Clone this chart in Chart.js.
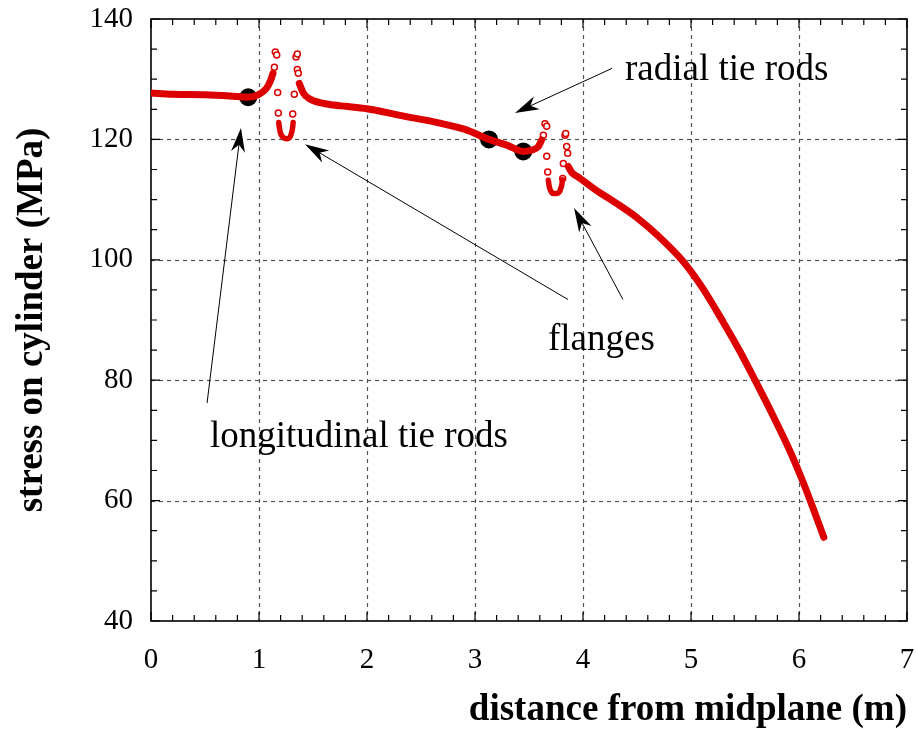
<!DOCTYPE html>
<html><head><meta charset="utf-8">
<script src="https://cdn.jsdelivr.net/npm/chart.js@4.4.0/dist/chart.umd.min.js"></script>
<style>html,body{margin:0;padding:0;background:#fff}#wrap{width:916px;height:729px;position:relative}</style>
</head><body><div id="wrap"><canvas id="c"></canvas></div>
<script>
// ---- tick labels ----
const xTickValues = [0,1,2,3,4,5,6,7];
const yTickValues = [40,60,80,100,120,140];

// ---- stress curve (dense part, drawn as thick line) ----
const segAX = [0,0.2,0.5,0.73,0.9,0.99,1.07,1.11,1.13];
const segAY = [127.7,127.5,127.4,127.2,127.0,127.4,128.5,129.9,131.0];
const segBX = [1.373,1.41,1.472,1.565,1.69,1.8,2.0,2.305,2.676,2.9,3.13,3.3,3.447,3.52,3.586,3.617];
const segBY = [129.3,127.7,126.7,126.1,125.7,125.5,125.1,124.0,122.7,121.7,120.0,119.0,118.0,118.2,118.8,119.9];
const segCX = [3.864,3.9,3.95,3.99,4.11,4.3,4.5,4.7,4.914,5.1,5.3,5.45,5.593,5.762,5.917,6.01,6.10,6.23];
const segCY = [115.5,114.4,113.8,113.3,111.7,109.5,107.0,103.9,100.0,95.5,89.6,84.9,80.0,74.0,68.2,64.3,60.2,53.9];

// ---- flange troughs (dense U shapes) ----
const flange1UX = [1.183,1.19,1.20,1.215,1.235,1.255,1.275,1.29,1.30,1.31,1.316];
const flange1UY = [122.8,121.8,121.0,120.5,120.2,120.1,120.2,120.5,121.0,121.8,122.8];
const flange2UX = [3.679,3.685,3.695,3.71,3.73,3.75,3.77,3.785,3.795,3.805,3.81];
const flange2UY = [113.2,112.4,111.7,111.2,111.0,111.0,111.1,111.4,111.9,112.6,113.3];

// ---- flange sparse points (hollow circles) ----
const flange1X = [1.142,1.151,1.164,1.173,1.179,1.312,1.327,1.343,1.355,1.355,1.364];
const flange1Y = [132.0,134.5,134.0,127.8,124.4,124.2,127.5,133.7,134.2,131.6,131.0];
const flange2X = [3.633,3.648,3.664,3.664,3.673,3.812,3.818,3.833,3.84,3.849,3.858];
const flange2Y = [120.7,122.6,122.2,117.2,114.6,113.5,116.0,120.7,121.0,118.8,117.7];

// ---- tie rod positions (black dots) ----
const tieRodX = [0.9,3.13,3.447];
const tieRodY = [127.0,120.0,118.0];

// ---- annotations ----
const labelTexts = ['radial tie rods','flanges','longitudinal tie rods'];
const labelX = [4.389,3.676,0.546];
const labelY = [129.9,85.0,68.9];
const arrowTailX = [0.519,3.861,4.37,4.269];
const arrowTailY = [76.2,93.4,93.4,131.8];
const arrowTipX = [0.833,1.426,3.917,3.37];
const arrowTipY = [121.9,119.2,108.6,124.4];

const RED = '#dd0000';
const pts = (xs, ys) => xs.map((x,i)=>({x, y: ys[i]}));
const lineDS = (xs, ys, w) => ({data: pts(xs,ys), showLine:true, borderColor:RED, borderWidth:w,
  pointRadius:0, cubicInterpolationMode:'monotone', borderCapStyle:'round', borderJoinStyle:'round', fill:false});
const circDS = (xs, ys) => ({data: pts(xs,ys), showLine:false, pointRadius:3, pointBorderWidth:1.5,
  pointBorderColor:RED, pointBackgroundColor:'#fff', pointStyle:'circle'});

const axesPlugin = {
  id:'axesFrame',
  beforeDatasetsDraw(chart){
    const {ctx, chartArea:a, scales:{x, y}} = chart;
    ctx.save();
    ctx.strokeStyle = '#555'; ctx.lineWidth = 1.2; ctx.setLineDash([4,4]);
    xTickValues.slice(1,-1).forEach(v=>{const p=Math.round(x.getPixelForValue(v))+0.5;
      ctx.beginPath(); ctx.moveTo(p,a.top); ctx.lineTo(p,a.bottom); ctx.stroke();});
    yTickValues.slice(1,-1).forEach(v=>{const p=Math.round(y.getPixelForValue(v))+0.5;
      ctx.beginPath(); ctx.moveTo(a.left,p); ctx.lineTo(a.right,p); ctx.stroke();});
    ctx.setLineDash([]);
    ctx.strokeStyle = '#000'; ctx.lineWidth = 1.6;
    ctx.strokeRect(a.left, a.top, a.right-a.left, a.bottom-a.top);
    ctx.lineWidth = 1.2;
    const xmin = xTickValues[0], xmax = xTickValues[xTickValues.length-1];
    for (let i = 0; i <= (xmax-xmin)*5; i++){
      const v = xmin + i*0.2; const major = i%5===0; const L = major?9:6;
      const p = x.getPixelForValue(v);
      ctx.beginPath(); ctx.moveTo(p,a.bottom); ctx.lineTo(p,a.bottom-L);
      ctx.moveTo(p,a.top); ctx.lineTo(p,a.top+L); ctx.stroke();
    }
    const ymin = yTickValues[0], ymax = yTickValues[yTickValues.length-1];
    for (let i = 0; i <= (ymax-ymin)/5; i++){
      const v = ymin + i*5; const major = i%4===0; const L = major?9:6;
      const p = y.getPixelForValue(v);
      ctx.beginPath(); ctx.moveTo(a.left,p); ctx.lineTo(a.left+L,p);
      ctx.moveTo(a.right,p); ctx.lineTo(a.right-L,p); ctx.stroke();
    }
    ctx.restore();
  },
  afterDatasetsDraw(chart){
    const {ctx, scales:{x, y}} = chart;
    ctx.save();
    arrowTailX.forEach((tx,i)=>{
      const x0=x.getPixelForValue(tx), y0=y.getPixelForValue(arrowTailY[i]);
      const x1=x.getPixelForValue(arrowTipX[i]), y1=y.getPixelForValue(arrowTipY[i]);
      const ang=Math.atan2(y1-y0,x1-x0), c=Math.cos(ang), s=Math.sin(ang);
      const L=24, W=7, N=17;
      ctx.strokeStyle='#000'; ctx.lineWidth=1;
      ctx.beginPath(); ctx.moveTo(x0,y0); ctx.lineTo(x1-c*N,y1-s*N); ctx.stroke();
      ctx.fillStyle='#000'; ctx.beginPath();
      ctx.moveTo(x1,y1);
      ctx.lineTo(x1-c*L - s*W, y1-s*L + c*W);
      ctx.lineTo(x1-c*N, y1-s*N);
      ctx.lineTo(x1-c*L + s*W, y1-s*L - c*W);
      ctx.closePath(); ctx.fill();
    });
    ctx.fillStyle='#000'; ctx.font='37px "Liberation Serif", "Times New Roman", serif';
    ctx.textAlign='left'; ctx.textBaseline='alphabetic';
    labelTexts.forEach((t,i)=>ctx.fillText(t, x.getPixelForValue(labelX[i]), y.getPixelForValue(labelY[i])));
    ctx.restore();
  }
};

const zeroPad = s => { s.paddingTop = 0; s.paddingBottom = 0; s.paddingLeft = 0; s.paddingRight = 0; };

new Chart(document.getElementById('c'), {
  type:'scatter',
  data:{datasets:[
    lineDS(segAX,segAY,7), lineDS(segBX,segBY,7), lineDS(segCX,segCY,7),
    lineDS(flange1UX,flange1UY,5.5), lineDS(flange2UX,flange2UY,5.5),
    circDS(flange1X,flange1Y), circDS(flange2X,flange2Y),
    {data:pts(tieRodX,tieRodY), showLine:false, pointRadius:9, pointBackgroundColor:'#000', pointBorderColor:'#000', pointBorderWidth:0}
  ]},
  options:{
    responsive:true, maintainAspectRatio:false, animation:false, devicePixelRatio:1,
    layout:{padding:{left:14, right:9, top:19, bottom:0}},
    plugins:{legend:{display:false}, tooltip:{enabled:false}},
    scales:{
      x:{type:'linear', min:0, max:7,
        afterBuildTicks(s){ s.ticks = xTickValues.map(v=>({value:v})); },
        afterFit(s){ s.height = 108; zeroPad(s); },
        grid:{display:false, drawTicks:false}, border:{display:false},
        ticks:{color:'#000', padding:22, maxRotation:0, font:{family:'"Liberation Serif", serif', size:29}},
        title:{display:true, text:'distance from midplane (m)', align:'end', color:'#000', padding:0,
          font:{family:'"Liberation Serif", serif', size:37, weight:'bold', lineHeight:1.0}}
      },
      y:{type:'linear', min:40, max:140,
        afterBuildTicks(s){ s.ticks = yTickValues.map(v=>({value:v})); },
        afterFit(s){ s.width = 137; zeroPad(s); },
        grid:{display:false, drawTicks:false}, border:{display:false},
        ticks:{color:'#000', padding:18, font:{family:'"Liberation Serif", serif', size:29}},
        title:{display:true, text:'stress on cylinder (MPa)', color:'#000', padding:0,
          font:{family:'"Liberation Serif", serif', size:37, weight:'bold', lineHeight:1.0}}
      }
    }
  },
  plugins:[axesPlugin]
});
</script></body></html>
